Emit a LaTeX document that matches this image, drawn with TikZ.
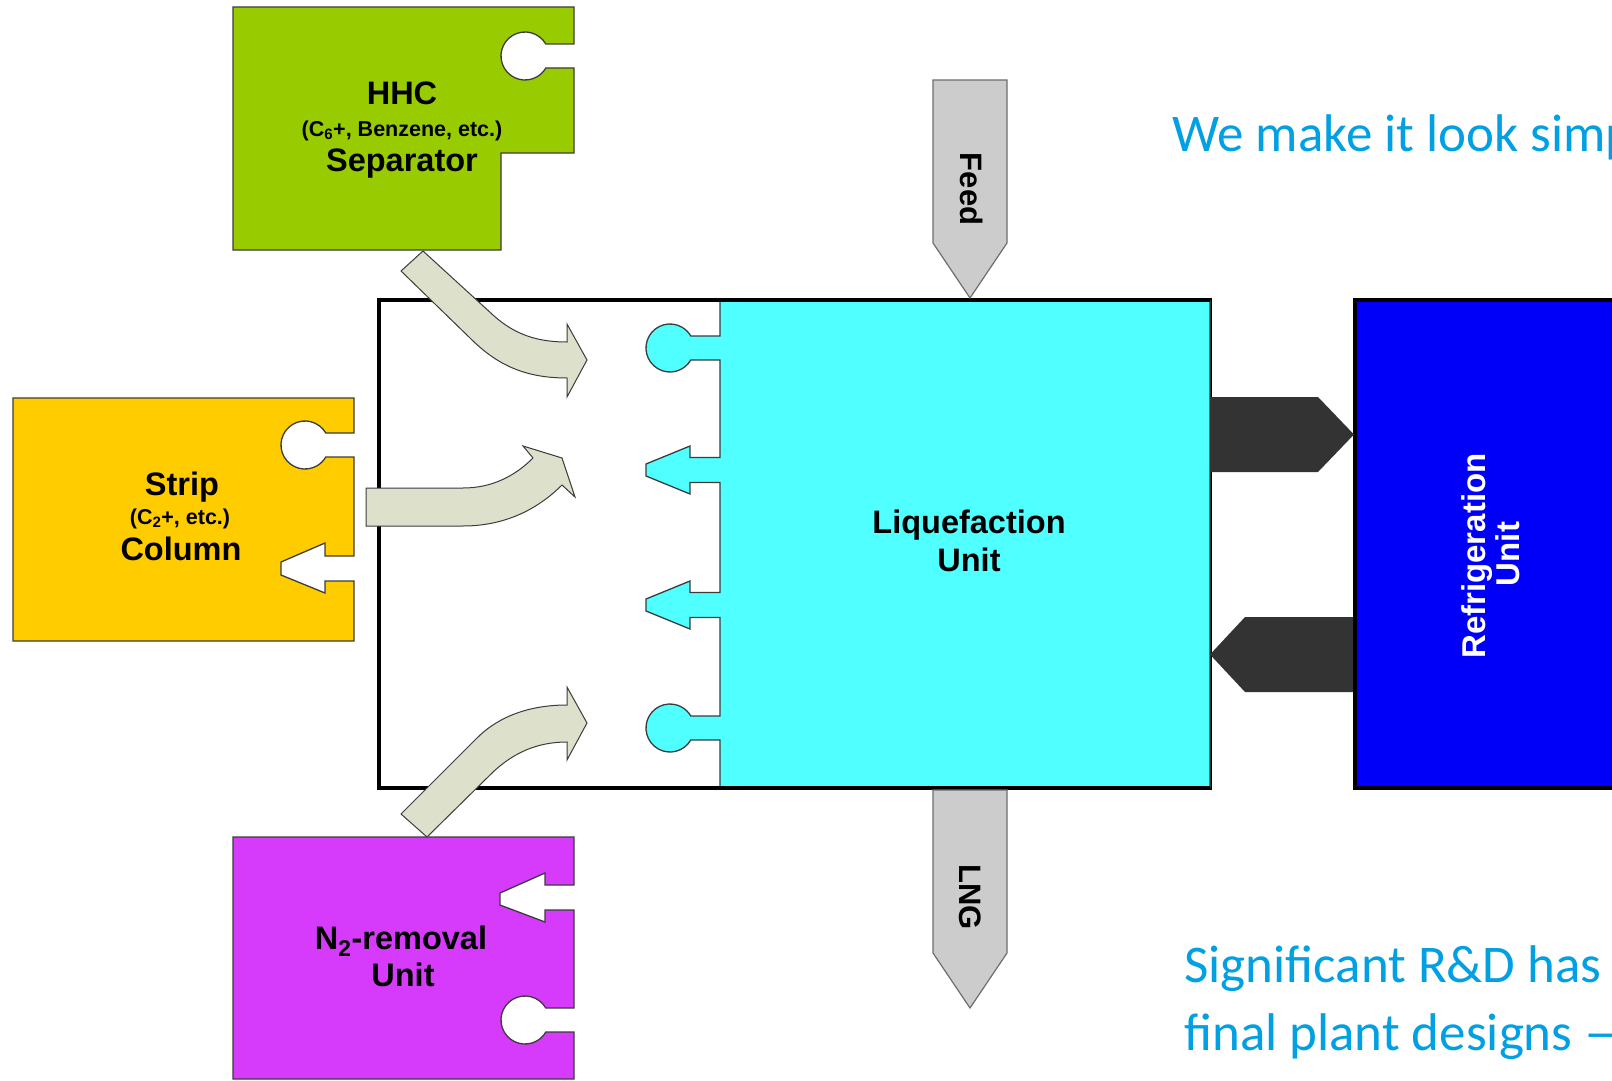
\documentclass[tikz,border=0pt]{standalone}
\usepackage{fontspec}
\setmainfont{Liberation Sans}
\newfontfamily\calfont{Carlito}
\definecolor{hhcgreen}{RGB}{153,204,0}
\definecolor{stripyellow}{RGB}{255,204,0}
\definecolor{ntwopurple}{RGB}{214,58,250}
\definecolor{liqcyan}{RGB}{80,255,255}
\definecolor{refblue}{RGB}{0,0,250}
\definecolor{darkarrow}{RGB}{51,51,51}
\definecolor{feedgray}{RGB}{204,204,204}
\definecolor{beige}{RGB}{221,224,203}
\definecolor{slideblue}{RGB}{0,160,227}
\tikzset{
  piece/.style={draw={rgb,255:red,60;green,60;blue,60}, line width=1.3pt, line join=miter},
  flowarrow/.style={fill=beige, draw={rgb,255:red,60;green,60;blue,60}, line width=1pt, line join=miter},
  streamarrow/.style={fill=feedgray, draw={rgb,255:red,110;green,110;blue,110}, line width=1.2pt},
  bigtxt/.style={font=\fontsize{32.5}{34}\selectfont\bfseries, inner sep=0pt, anchor=base},
  streamtxt/.style={font=\fontsize{31}{33}\selectfont\bfseries, inner sep=0pt, anchor=base, rotate=-90},
  reftxt/.style={font=\fontsize{33}{35}\selectfont\bfseries, inner sep=0pt, anchor=base, rotate=90, text=white},
  smalltxt/.style={font=\fontsize{21.5}{24}\selectfont\bfseries, inner sep=0pt, anchor=base},
  slidetxt/.style={font=\calfont\fontsize{53}{68}\selectfont, text=slideblue, inner sep=0pt, anchor=base west}
}
\begin{document}
\begin{tikzpicture}[x=1pt,y=-1pt]
\useasboundingbox (0,0) rectangle (1612,1081);
\fill[white] (0,0) rectangle (1612,1081);

% container
\draw[line width=4pt, fill=white] (379,300) rectangle (1210,788);

% liquefaction unit piece
\path[piece, fill=liqcyan] (720,300) -- (1210,300) -- (1210,788) -- (720,788) -- (720,740) -- (690.78,740)
  arc[start angle=-30, end angle=-330, radius=24pt] -- (720,716) -- (720,617.5) -- (690,617.5) -- (690,629)
  -- (646,611) -- (646,599) -- (690,581) -- (690,592.5) -- (720,592.5) -- (720,482.5) -- (690,482.5)
  -- (690,494) -- (646,476) -- (646,464) -- (690,446) -- (690,457.5) -- (720,457.5) -- (720,360)
  -- (690.78,360) arc[start angle=-30, end angle=-330, radius=24pt] -- (720,336) -- cycle;
\draw[line width=4pt] (379,300) -- (1210,300);
\draw[line width=4pt] (379,788) -- (1210,788);
\node[bigtxt] (liq1) at (969,533) {Liquefaction};
\node[bigtxt] (liq2) at (969,571) {Unit};

% curved flow arrows
\path[flowarrow] (401,271) -- (423,251) -- (493,315) .. controls (515,335) and (538,342) .. (567,342)
  -- (567,324) -- (587,360) -- (567,397) -- (567,378) .. controls (525,378) and (497,365) .. (470,338) -- cycle;
\path[flowarrow] (366,488) -- (463,488) .. controls (492,488) and (515,476) .. (533,458)
  -- (523,446) -- (562,458) -- (575,497) -- (562,485) .. controls (542,505) and (510,526) .. (463,526) -- (366,526) -- cycle;
\path[flowarrow] (401,814) -- (477,738) .. controls (500,715) and (532,705) .. (567,705)
  -- (567,687) -- (587,723) -- (567,760) -- (567,742) .. controls (537,742) and (512,753) .. (490,775) -- (427,837) -- cycle;

% HHC separator
\path[piece, fill=hhcgreen] (233,7) -- (574,7) -- (574,44) -- (545.78,44)
  arc[start angle=30, end angle=330, radius=24pt] -- (574,68) -- (574,153) -- (501,153) -- (501,250) -- (233,250) -- cycle;
\node[bigtxt] (hhc1) at (402,104) {HHC};
\node[smalltxt] (hhc2) at (402,136) {(C\textsubscript{6}+, Benzene, etc.)};
\node[bigtxt] (hhc3) at (402,171) {Separator};

% Strip column
\path[piece, fill=stripyellow] (13,398) -- (354,398) -- (354,433) -- (325.78,433)
  arc[start angle=30, end angle=330, radius=24pt] -- (354,457) -- (354,556) -- (325,556) -- (325,543)
  -- (281,562) -- (281,575) -- (325,593) -- (325,581) -- (354,581) -- (354,641) -- (13,641) -- cycle;
\node[bigtxt] (str1) at (182,495) {Strip};
\node[smalltxt] (str2) at (180,524) {(C\textsubscript{2}+, etc.)};
\node[bigtxt] (str3) at (181,560) {Column};

% N2 removal
\path[piece, fill=ntwopurple] (233,837) -- (574,837) -- (574,885) -- (545,885) -- (545,873) -- (500,893)
  -- (500,905) -- (545,922) -- (545,910) -- (574,910) -- (574,1008) -- (545.78,1008)
  arc[start angle=30, end angle=330, radius=24pt] -- (574,1032) -- (574,1079) -- (233,1079) -- cycle;
\node[bigtxt] (nrm1) at (401,949) {N\textsubscript{2}-removal};
\node[bigtxt] (nrm2) at (403,986) {Unit};

% Feed and LNG
\path[streamarrow] (933,80) -- (1007,80) -- (1007,243) -- (970,298) -- (933,243) -- cycle;
\node[streamtxt] (feed) at (960,189) {Feed};
\path[streamarrow] (933,790) -- (1007,790) -- (1007,953) -- (970,1008) -- (933,953) -- cycle;
\node[streamtxt] (lng) at (959,897) {LNG};

% Refrigeration unit
\draw[line width=4pt, fill=refblue] (1355,300) rectangle (1650,788);
\fill[darkarrow] (1210,397) -- (1318,397) -- (1354,434.5) -- (1318,472) -- (1210,472) -- cycle;
\fill[darkarrow] (1353,617) -- (1245,617) -- (1210,654.5) -- (1245,692) -- (1353,692) -- cycle;
\node[reftxt] (ref1) at (1485,556) {Refrigeration};
\node[reftxt] (ref2) at (1519,554) {Unit};

% slide texts
\node[slidetxt] (simple) at (1172,151) {We make it look simp};
\node[slidetxt] (rd1) at (1184,982) {Significant R\&D has};
\node[slidetxt] (rd2) at (1184,1050) {final plant designs —};
\end{tikzpicture}
\end{document}
